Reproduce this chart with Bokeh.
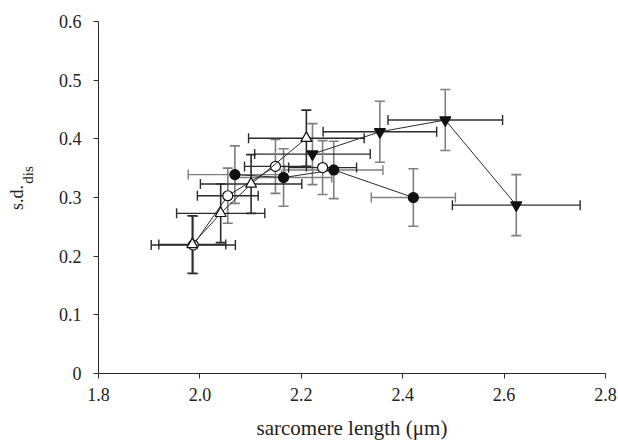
from bokeh.plotting import figure
from bokeh.models import ColumnDataSource, Whisker, TeeHead, FixedTicker, LinearAxis, Range1d
from bokeh.embed import file_html
from bokeh.resources import INLINE

# ---- axis ticks ----
x_ticks = [1.8, 2.0, 2.2, 2.4, 2.6, 2.8]
x_tick_labels = ["1.8", "2.0", "2.2", "2.4", "2.6", "2.8"]
y_ticks = [0.0, 0.1, 0.2, 0.3, 0.4, 0.5, 0.6]
y_tick_labels = ["0", "0.1", "0.2", "0.3", "0.4", "0.5", "0.6"]

# ---- series: open triangles ----
tri_open_x = [1.985, 2.041, 2.101, 2.210]
tri_open_y = [0.220, 0.273, 0.323, 0.401]
tri_open_xerr = [0.066, 0.087, 0.100, 0.114]
tri_open_yerr = [0.049, 0.050, 0.050, 0.048]

# ---- series: open circles ----
circ_open_x = [1.987, 2.055, 2.149, 2.242]
circ_open_y = [0.219, 0.303, 0.353, 0.351]
circ_open_xerr = [0.083, 0.060, 0.061, 0.067]
circ_open_yerr = [0.049, 0.047, 0.046, 0.046]

# ---- series: filled circles ----
circ_fill_x = [2.069, 2.165, 2.264, 2.421]
circ_fill_y = [0.339, 0.334, 0.347, 0.300]
circ_fill_xerr = [0.092, 0.095, 0.097, 0.083]
circ_fill_yerr = [0.049, 0.049, 0.049, 0.049]

# ---- series: filled inverted triangles ----
tri_fill_x = [2.222, 2.355, 2.484, 2.624]
tri_fill_y = [0.374, 0.412, 0.432, 0.287]
tri_fill_xerr = [0.114, 0.112, 0.113, 0.126]
tri_fill_yerr = [0.052, 0.052, 0.052, 0.052]

DARK = "#2b2b2b"
GREY = "#7f7f7f"
FONT = "Liberation Serif"

p = figure(width=618, height=443, x_range=Range1d(1.8, 2.8), y_range=Range1d(0, 0.6),
           output_backend="svg", toolbar_location=None,
           min_border_left=98, min_border_right=13, min_border_top=21, min_border_bottom=70)
p.outline_line_color = None
p.xgrid.visible = False
p.ygrid.visible = False
p.background_fill_color = "white"

for ax in (p.xaxis[0], p.yaxis[0]):
    ax.axis_line_color = DARK
    ax.axis_line_width = 1
    ax.major_tick_line_color = DARK
    ax.major_tick_out = 5
    ax.major_tick_in = 0
    ax.minor_tick_line_color = None
    ax.major_label_text_font = FONT
    ax.major_label_text_font_size = "18px"
    ax.major_label_text_color = "#222222"
    ax.axis_label_text_font = FONT
    ax.axis_label_text_font_style = "normal"
    ax.axis_label_text_color = "#222222"

p.xaxis.ticker = FixedTicker(ticks=x_ticks)
p.xaxis.major_label_overrides = {t: l for t, l in zip(x_ticks, x_tick_labels)}
p.yaxis.ticker = FixedTicker(ticks=y_ticks)
p.yaxis.major_label_overrides = {t: l for t, l in zip(y_ticks, y_tick_labels)}
p.xaxis.major_label_standoff = 9
p.yaxis.major_label_standoff = 12
p.xaxis.axis_label = "sarcomere length (\u03bcm)"
p.xaxis.axis_label_text_font_size = "21px"
p.xaxis.axis_label_standoff = 12

# y title: "s.d." with subscript "dis" (subscript on the main axis, closer to the frame)
p.yaxis.axis_label = "\u00a0" * 12 + "dis"
p.yaxis.axis_label_text_font_size = "15px"
p.yaxis.axis_label_standoff = 20

title_axis = LinearAxis(ticker=FixedTicker(ticks=[]), axis_line_color=None,
                        major_tick_line_color=None, minor_tick_line_color=None,
                        major_label_text_font_size="0px", major_tick_out=0, major_tick_in=0,
                        major_label_standoff=0,
                        axis_label="s.d.", axis_label_text_font=FONT,
                        axis_label_text_font_size="18px", axis_label_text_font_style="normal",
                        axis_label_text_color="#222222", axis_label_standoff=-10)
p.add_layout(title_axis, "left")


def add_series(xs, ys, xerr, yerr, marker, fill, size, xcol, ycol):
    src = ColumnDataSource(dict(
        x=xs, y=ys,
        xl=[a - e for a, e in zip(xs, xerr)], xu=[a + e for a, e in zip(xs, xerr)],
        yl=[a - e for a, e in zip(ys, yerr)], yu=[a + e for a, e in zip(ys, yerr)],
    ))
    wy = Whisker(source=src, base="x", lower="yl", upper="yu", dimension="height",
                 line_color=ycol, line_width=1.6, level="underlay",
                 lower_head=TeeHead(size=10, line_color=ycol, line_width=1.6),
                 upper_head=TeeHead(size=10, line_color=ycol, line_width=1.6))
    wx = Whisker(source=src, base="y", lower="xl", upper="xu", dimension="width",
                 line_color=xcol, line_width=1.4, level="underlay",
                 lower_head=TeeHead(size=10, line_color=xcol, line_width=1.4),
                 upper_head=TeeHead(size=10, line_color=xcol, line_width=1.4))
    p.add_layout(wy)
    p.add_layout(wx)
    p.line("x", "y", source=src, line_color=DARK, line_width=1)
    p.scatter("x", "y", source=src, marker=marker, size=size,
              fill_color=fill, line_color="#111111", line_width=1.2)


add_series(circ_fill_x, circ_fill_y, circ_fill_xerr, circ_fill_yerr, "circle", "#111111", 10, GREY, GREY)
add_series(tri_fill_x, tri_fill_y, tri_fill_xerr, tri_fill_yerr, "inverted_triangle", "#111111", 11, DARK, GREY)
add_series(circ_open_x, circ_open_y, circ_open_xerr, circ_open_yerr, "circle", "white", 10, DARK, GREY)
add_series(tri_open_x, tri_open_y, tri_open_xerr, tri_open_yerr, "triangle", "white", 11, DARK, DARK)

open("out.html", "w").write(file_html(p, INLINE))
